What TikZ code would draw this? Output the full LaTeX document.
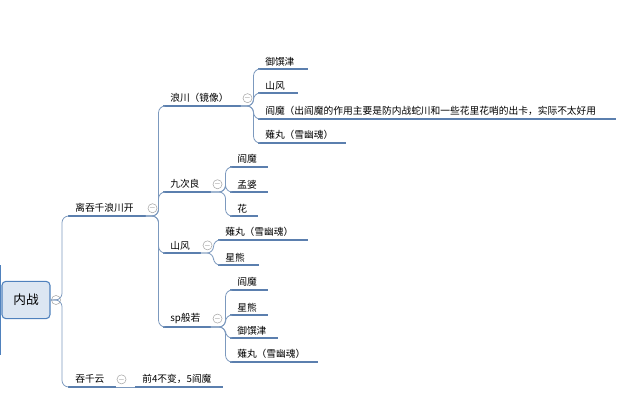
\documentclass[tikz,border=0pt]{standalone}
\usepackage{fontspec}
\setmainfont{Noto Sans CJK SC}
\definecolor{lineblue}{HTML}{5B7FAE}
\definecolor{rootfill}{HTML}{DCE6F2}
\definecolor{rootdraw}{HTML}{4F81BD}
\tikzset{
  topic/.code={\pgfmathsetlengthmacro\tw{(#1-14)*0.75pt}%
    \tikzset{anchor=south west, inner xsep=5.25pt, inner ysep=2.2pt, align=left,
      text width=\tw, font=\fontsize{7.3pt}{9pt}\selectfont,
      append after command={(\tikzlastnode.south west) edge[uline] (\tikzlastnode.south east)}}},
  uline/.style={draw=lineblue, line width=1.4pt},
  branch/.style={draw=lineblue!80, line width=0.6pt, rounded corners=5pt},
  fold/.style={circle, draw=gray!70, line width=0.4pt, minimum size=5pt, inner sep=0pt,
    font=\fontsize{4pt}{4pt}\selectfont, text=gray},
}
\begin{document}
\begin{tikzpicture}[x=0.75pt, y=-0.75pt]
  \useasboundingbox (0,0) rectangle (640,404);
  \draw[rootdraw, line width=1.5pt] (0,265) -- (0,355);
  \node[draw=rootdraw, fill=rootfill, rounded corners=3pt, line width=0.8pt,
        minimum width=36pt, minimum height=28pt, font=\fontsize{9.5pt}{11pt}\selectfont] (root) at (26,300) {内战};
  \node[fold] (f-root) at (56,300) {$-$};

  % level 1
  \node[topic=77] (lt) at (68,216) {离吞千浪川开};
  \node[topic=47] (tq) at (68,387) {吞千云};
  \node[topic=87] (tq1) at (135,387) {前4不变，5阎魔};
  \draw[branch] (root.east) -- (62,300) |- (lt.south west);
  \draw[branch] (root.east) -- (62,300) |- (tq.south west);
  \draw[branch] (tq.south east) -- (tq1.south west);
  \node[fold] (f-tq) at ([xshift=4.5pt]tq.east) {$-$};

  % level 2
  \node[topic=77] (lc) at (163,106) {浪川（镜像）};
  \node[topic=47] (jc) at (163,192) {九次良};
  \node[topic=37] (sf) at (163,253) {山风};
  \node[topic=47] (sp) at (163,327) {sp般若};
  \foreach \c in {lc,jc,sf,sp}
    \draw[branch] (lt.south east) -- ++(13,0) |- (\c.south west);
  \node[fold] (f-lt) at ([xshift=5.25pt]lt.east) {$-$};

  % level 3
  \node[topic=49] (lc1) at (258,69) {御馔津};
  \node[topic=39] (lc2) at (258,93) {山风};
  \node[topic=357] (lc3) at (258,119) {阎魔（出阎魔的作用主要是防内战蛇川和一些花里花哨的出卡，实际不太好用};
  \node[topic=87] (lc4) at (258,143) {薙丸（雪幽魂）};
  \foreach \c in {lc1,lc2,lc3,lc4}
    \draw[branch] (lc.south east) -- ++(13,0) |- (\c.south west);
  \node[fold] (f-lc) at ([xshift=5.25pt]lc.east) {$-$};

  \node[topic=37] (jc1) at (230,167) {阎魔};
  \node[topic=37] (jc2) at (230,192) {孟婆};
  \node[topic=27] (jc3) at (230,216) {花};
  \foreach \c in {jc1,jc2,jc3}
    \draw[branch] (jc.south east) -- ++(15,0) |- (\c.south west);
  \node[fold] (f-jc) at ([xshift=5.25pt]jc.east) {$-$};

  \node[topic=89] (sf1) at (218,240) {薙丸（雪幽魂）};
  \node[topic=40] (sf2) at (218,265) {星熊};
  \foreach \c in {sf1,sf2}
    \draw[branch] (sf.south east) -- ++(13,0) |- (\c.south west);
  \node[fold] (f-sf) at ([xshift=5.25pt]sf.east) {$-$};

  \node[topic=37] (sp1) at (230,290) {阎魔};
  \node[topic=37] (sp2) at (230,315) {星熊};
  \node[topic=47] (sp3) at (230,338) {御馔津};
  \node[topic=87] (sp4) at (230,362) {薙丸（雪幽魂）};
  \foreach \c in {sp1,sp2,sp3,sp4}
    \draw[branch] (sp.south east) -- ++(15,0) |- (\c.south west);
  \node[fold] (f-sp) at ([xshift=5.25pt]sp.east) {$-$};
\end{tikzpicture}
\end{document}
